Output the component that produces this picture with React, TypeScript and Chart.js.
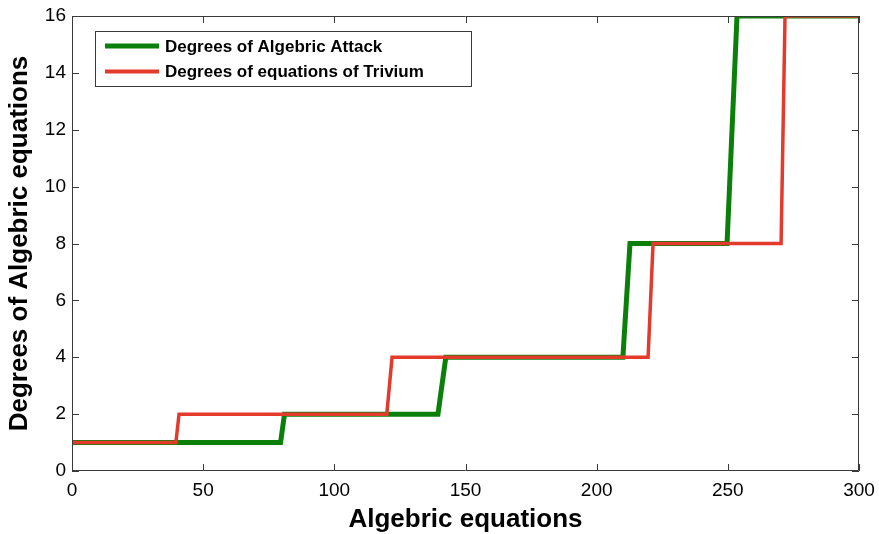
import React, { useEffect, useRef } from "react";
import { Chart, registerables } from "chart.js";

Chart.register(...registerables);

const attackX = [0, 79.5, 81, 139.5, 142.5, 210, 212.7, 249.7, 253.5, 300];
const attackY = [1, 1, 2, 2, 4, 4, 8, 8, 16, 16];
const triviumX = [0, 39.6, 40.8, 120, 122, 219.6, 221.5, 270.3, 271.8, 300];
const triviumY = [1, 1, 2, 2, 4, 4, 8, 8, 16, 16];
const xTicks = [0, 50, 100, 150, 200, 250, 300];
const yTicks = [0, 2, 4, 6, 8, 10, 12, 14, 16];
const seriesNames = ["Degrees of Algebric Attack", "Degrees of equations of Trivium"];
const xTitle = "Algebric equations";
const yTitle = "Degrees of Algebric equations";

const GREEN = "#0a800a";
const RED = "#e33a2b";
const FONT = "'Liberation Sans', Arial, Helvetica, sans-serif";

const boxPlugin = {
  id: "matlabBox",
  afterDraw(chart: any) {
    const { ctx, chartArea } = chart;
    const { left, right, top, bottom } = chartArea;
    const xs = chart.scales.x;
    const ys = chart.scales.y;
    ctx.save();
    ctx.strokeStyle = "#3a3a3a";
    ctx.lineWidth = 1;
    ctx.beginPath();
    ctx.rect(left + 0.5, top + 0.5, right - left - 1, bottom - top - 1);
    ctx.stroke();
    const tl = 7;
    ctx.beginPath();
    xTicks.forEach((v) => {
      const px = Math.round(xs.getPixelForValue(v)) + 0.5;
      ctx.moveTo(px, bottom);
      ctx.lineTo(px, bottom - tl);
      ctx.moveTo(px, top);
      ctx.lineTo(px, top + tl);
    });
    yTicks.forEach((v) => {
      const py = Math.round(ys.getPixelForValue(v)) + 0.5;
      ctx.moveTo(left, py);
      ctx.lineTo(left + tl, py);
      ctx.moveTo(right, py);
      ctx.lineTo(right - tl, py);
    });
    ctx.stroke();

    // legend
    const lx = 95.5, ly = 31.5, lw = 376, lh = 55;
    ctx.fillStyle = "#ffffff";
    ctx.fillRect(lx, ly, lw, lh);
    ctx.strokeStyle = "#3a3a3a";
    ctx.strokeRect(lx, ly, lw, lh);
    const rows = [
      { name: seriesNames[0], color: GREEN, w: 5, y: 46 },
      { name: seriesNames[1], color: RED, w: 4, y: 71.5 },
    ];
    rows.forEach((r) => {
      ctx.strokeStyle = r.color;
      ctx.lineWidth = r.w;
      ctx.lineCap = "butt";
      ctx.beginPath();
      ctx.moveTo(105, r.y);
      ctx.lineTo(159, r.y);
      ctx.stroke();
      ctx.fillStyle = "#000";
      ctx.font = `bold 17px ${FONT}`;
      ctx.textAlign = "left";
      ctx.textBaseline = "middle";
      ctx.fillText(r.name, 165, r.y + 1);
    });
    ctx.restore();
  },
};

export default function App() {
  const ref = useRef<HTMLCanvasElement | null>(null);
  useEffect(() => {
    if (!ref.current) return;
    const chart = new Chart(ref.current, {
      type: "line",
      data: {
        datasets: [
          {
            label: seriesNames[0],
            data: attackX.map((x, i) => ({ x, y: attackY[i] })),
            borderColor: GREEN,
            backgroundColor: GREEN,
            borderWidth: 5,
            pointRadius: 0,
            tension: 0,
            order: 1,
            borderJoinStyle: "miter",
          },
          {
            label: seriesNames[1],
            data: triviumX.map((x, i) => ({ x, y: triviumY[i] })),
            borderColor: RED,
            backgroundColor: RED,
            borderWidth: 3.5,
            pointRadius: 0,
            tension: 0,
            order: 0,
            borderJoinStyle: "miter",
          },
        ],
      },
      options: {
        animation: false,
        responsive: false,
        layout: { padding: { left: 0, right: 20, top: 16, bottom: 0 } },
        plugins: { legend: { display: false }, tooltip: { enabled: false } },
        scales: {
          x: {
            type: "linear",
            min: 0,
            max: 300,
            afterBuildTicks: (s: any) => {
              s.ticks = xTicks.map((v) => ({ value: v }));
            },
            afterFit: (s: any) => {
              s.height = 63;
              s.paddingLeft = 0;
              s.paddingRight = 0;
            },
            grid: { display: false, drawTicks: false },
            border: { display: false },
            ticks: {
              color: "#000",
              font: { family: FONT, size: 19 },
              padding: 8,
              maxRotation: 0,
            },
            title: {
              display: true,
              text: xTitle,
              color: "#000",
              font: { family: FONT, size: 26, weight: "bold", lineHeight: 1.1 },
              padding: { top: 0, bottom: 0 },
            },
          },
          y: {
            type: "linear",
            min: 0,
            max: 16,
            afterBuildTicks: (s: any) => {
              s.ticks = yTicks.map((v) => ({ value: v }));
            },
            afterFit: (s: any) => {
              s.width = 72;
              s.paddingTop = 0;
              s.paddingBottom = 0;
            },
            grid: { display: false, drawTicks: false },
            border: { display: false },
            ticks: {
              color: "#000",
              font: { family: FONT, size: 19 },
              padding: 6,
            },
            title: {
              display: true,
              text: yTitle,
              color: "#000",
              font: { family: FONT, size: 26, weight: "bold", lineHeight: 1.1 },
              padding: { top: 6, bottom: 0 },
            },
          },
        },
      },
      plugins: [boxPlugin],
    });
    return () => chart.destroy();
  }, []);
  return (
    <div style={{ position: "fixed", left: 0, top: 0, width: 879, height: 534, background: "#fff" }}>
      <canvas ref={ref} width={879} height={534} style={{ display: "block" }} />
    </div>
  );
}
